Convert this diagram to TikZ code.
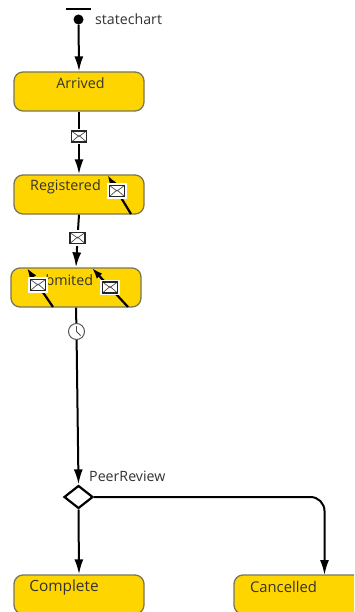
\documentclass[tikz,border=0pt]{standalone}
\usepackage{fontspec}
\setmainfont{Open Sans}
\usetikzlibrary{arrows.meta,shapes.geometric}
\definecolor{stategold}{HTML}{FFD500}
\definecolor{stateedge}{HTML}{7A7658}
\definecolor{labelink}{HTML}{333333}
\tikzset{
  statebox/.style={draw=stateedge,line width=1.3pt,fill=stategold,rounded corners=9pt,minimum width=130pt,minimum height=39pt,inner sep=0pt},
  statetext/.style={text=labelink,font=\fontsize{14.3}{16}\selectfont,inner sep=0pt,anchor=center},
  freetext/.style={text=labelink,font=\fontsize{14.2}{16}\selectfont,anchor=west,inner sep=0pt},
  flow/.style={draw=black,line width=2pt,-{Latex[length=15pt,width=9pt]}},
  plainflow/.style={draw=black,line width=2pt},
  innerflow/.style={draw=black,line width=2.2pt,{Latex[length=11pt,width=7.5pt]}-},
  innerrest/.style={draw=black,line width=2.2pt},
  envelope/.style={draw=black!85,line width=1.4pt,fill=white,minimum width=15pt,minimum height=11pt,inner sep=0pt,
    path picture={
      \draw[line width=0.7pt,draw=black!70] (path picture bounding box.north west) -- (path picture bounding box.center) -- (path picture bounding box.north east);
      \draw[line width=0.7pt,draw=black!70] (path picture bounding box.south west) -- ([yshift=1pt]path picture bounding box.center) -- (path picture bounding box.south east);
    }},
  halo/.style={draw=white,line width=1.2pt,fill=white,minimum width=18.5pt,minimum height=14.5pt,inner sep=0pt},
  clockface/.style={circle,draw=black!65,line width=1pt,fill=white,minimum size=16pt,inner sep=0pt}
}
\begin{document}
\begin{tikzpicture}[x=1pt,y=-1pt]
\useasboundingbox (0,0) rectangle (354,612);
\clip (0,0) rectangle (354,612);
\fill[white] (0,0) rectangle (354,612);
% states
\node[statebox] (arrived) at (79,91.5) {};
\node[statebox] (registered) at (79,194.5) {};
\node[statebox] (submitted) at (76,287.5) {};
\node[statebox] (complete) at (79,594.5) {};
\node[statebox] (cancelled) at (299,594.5) {};
\node[statetext] (arrivedtext) at (80.5,83.5) {Arrived};
\node[statetext] (registeredtext) at (65.5,187) {Registered};
\node[statetext] (submittedtext) at (61,280) {Submited};
\node[statetext,font=\fontsize{15.4}{17}\selectfont] (completetext) at (64,587) {Complete};
\node[statetext,font=\fontsize{14.8}{17}\selectfont] (cancelledtext) at (283.5,586.5) {Cancelled};
% initial
\coordinate (barl) at (66,9.5);
\coordinate (barr) at (91,9.5);
\draw[plainflow] (barl) -- (barr);
\node[circle,fill=black,minimum size=10pt,inner sep=0pt] (init) at (78.5,19.5) {};
\node[freetext] (chartname) at (95,19) {statechart};
% decision
\node[diamond,draw=black,line width=2.2pt,fill=white,minimum width=29pt,minimum height=23pt,inner sep=0pt] (peer) at (78.5,497) {};
\node[freetext] (peername) at (89,476.5) {PeerReview};
% connector icons
\coordinate (msgone) at (79,136.5);
\coordinate (msgtwo) at (77.5,238);
\coordinate (timer) at (76.5,331.5);
% connectors
\draw[flow] (init) -- (arrived.north);
\draw[plainflow] (arrived.south) -- (msgone);
\draw[flow] (msgone) -- (registered.north);
\draw[plainflow] (registered.south) -- (msgtwo);
\draw[flow] (msgtwo) -- (submitted.north);
\draw[plainflow] (submitted.south) -- (timer);
\draw[flow] (timer) -- (peer.north);
\draw[flow] (peer.south) -- (complete.north);
\draw[flow,rounded corners=14pt] (peer.east) -- (324.5,497) -- (324.5,575);
% icons above lines
\node[halo] at (msgone) {};
\node[envelope] at (msgone) {};
\node[halo] at (msgtwo) {};
\node[envelope] at (msgtwo) {};
\node[clockface] at (timer) {};
\draw[black!70,line width=0.9pt] (timer) -- ++(0,-5.5) (timer) -- ++(4,4);
% internal transitions
\coordinate (ra) at (107.5,175);
\coordinate (rb) at (131,214);
\coordinate (sa) at (27,268);
\coordinate (sb) at (53,307);
\coordinate (ta) at (92,268);
\coordinate (tb) at (128,307);
\coordinate (inr) at (117,191);
\coordinate (ins) at (38,285);
\coordinate (int) at (110,287.5);
\draw[innerflow] (ra) -- (inr);
\draw[innerrest] (inr) -- (rb);
\draw[innerflow] (sa) -- (ins);
\draw[innerrest] (ins) -- (sb);
\draw[innerflow] (ta) -- (int);
\draw[innerrest] (int) -- (tb);
\node[halo] at (inr) {};
\node[envelope] at (inr) {};
\node[halo] at (ins) {};
\node[envelope] at (ins) {};
\node[halo] at (int) {};
\node[envelope] at (int) {};
\end{tikzpicture}
\end{document}
